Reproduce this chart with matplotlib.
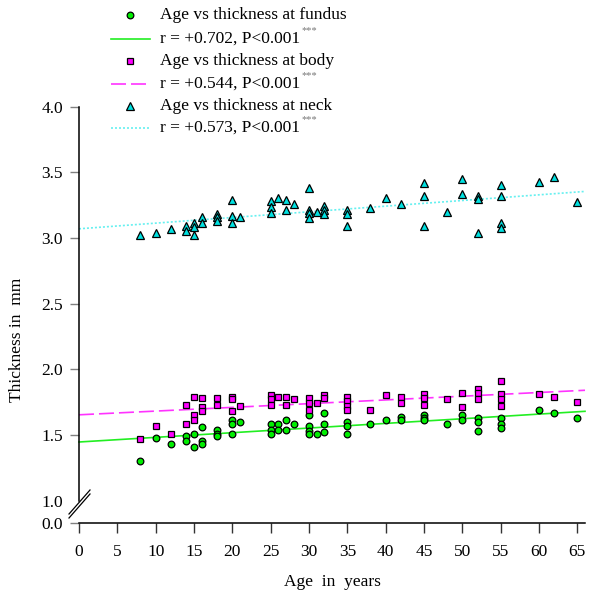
import matplotlib
matplotlib.use('Agg')
import matplotlib.pyplot as plt
from matplotlib.lines import Line2D
import numpy as np

plt.rcParams['font.family'] = ['Liberation Serif', 'DejaVu Serif']

# ---------------- data ----------------
fundus_age = [8, 10, 12, 14, 14, 15, 15, 16, 16, 16, 18, 18, 18, 20, 20, 20, 21,
              25, 25, 25, 26, 26, 27, 27, 28, 30, 30, 30, 30, 31, 32, 32, 32, 35, 35, 35,
              38, 40, 42, 42, 45, 45, 45, 48, 50, 50, 52, 52, 52, 55, 55, 55, 60, 62, 65]
fundus_thk = [1.30, 1.475, 1.43, 1.495, 1.45, 1.51, 1.41, 1.56, 1.45, 1.43, 1.535, 1.51, 1.49,
              1.61, 1.58, 1.51, 1.60,
              1.58, 1.54, 1.51, 1.58, 1.54, 1.61, 1.535, 1.58, 1.65, 1.565, 1.53, 1.505, 1.51,
              1.67, 1.58, 1.52, 1.60, 1.565, 1.51, 1.58, 1.61, 1.64, 1.61, 1.65, 1.63, 1.61,
              1.58, 1.65, 1.61, 1.63, 1.60, 1.53, 1.63, 1.58, 1.555, 1.69, 1.67, 1.63]

body_age = [8, 10, 12, 14, 14, 15, 15, 15, 16, 16, 16, 18, 18, 20, 20, 20, 21,
            25, 25, 25, 26, 27, 27, 28, 30, 30, 30, 31, 32, 32, 35, 35, 35, 35, 38, 40,
            42, 42, 45, 45, 45, 48, 50, 50, 52, 52, 52, 55, 55, 55, 55, 60, 62, 65]
body_thk = [1.47, 1.57, 1.51, 1.73, 1.58, 1.79, 1.65, 1.61, 1.78, 1.71, 1.685, 1.78, 1.73,
            1.79, 1.77, 1.685, 1.72,
            1.80, 1.77, 1.73, 1.79, 1.79, 1.73, 1.77, 1.78, 1.74, 1.69, 1.74, 1.80, 1.78,
            1.79, 1.755, 1.72, 1.69, 1.69, 1.80, 1.79, 1.74, 1.81, 1.78, 1.73, 1.77, 1.82,
            1.71, 1.85, 1.82, 1.775, 1.91, 1.81, 1.77, 1.72, 1.81, 1.79, 1.75]

neck_age = [8, 10, 12, 14, 14, 15, 15, 15, 16, 16, 18, 18, 18, 20, 20, 20, 21,
            25, 25, 25, 26, 27, 27, 28, 30, 30, 30, 30, 31, 32, 32, 32, 35, 35, 35, 38, 40,
            42, 45, 45, 45, 48, 50, 50, 52, 52, 52, 55, 55, 55, 55, 60, 62, 65]
neck_thk = [3.02, 3.035, 3.07, 3.09, 3.05, 3.11, 3.08, 3.02, 3.16, 3.11, 3.18, 3.16, 3.13,
            3.285, 3.165, 3.115, 3.16,
            3.28, 3.235, 3.19, 3.30, 3.285, 3.215, 3.255, 3.38, 3.215, 3.19, 3.15, 3.20,
            3.245, 3.215, 3.18, 3.21, 3.18, 3.09, 3.225, 3.30, 3.255, 3.42, 3.315, 3.09,
            3.20, 3.45, 3.335, 3.315, 3.295, 3.035, 3.405, 3.315, 3.115, 3.075, 3.425,
            3.465, 3.27]

fit_intercept = [1.446, 1.653, 3.069]
fit_slope = [0.00354, 0.00283, 0.00431]

series_labels = ['Age vs thickness at fundus', 'Age vs thickness at body', 'Age vs thickness at neck']
fit_labels = ['r = +0.702, P<0.001', 'r = +0.544, P<0.001', 'r = +0.573, P<0.001']
xticks = [0, 5, 10, 15, 20, 25, 30, 35, 40, 45, 50, 55, 60, 65]
yticks = [1.0, 1.5, 2.0, 2.5, 3.0, 3.5, 4.0]
ytick_labels = ['1.0', '1.5', '2.0', '2.5', '3.0', '3.5', '4.0']

# ---------------- figure ----------------
W, H = 596, 594
FS = 12.5
fig = plt.figure(figsize=(W / 100, H / 100), dpi=100)

def fx(px):
    return px / W

def fy(py):
    return 1 - py / H

ax = fig.add_axes([fx(79), fy(523), (585 - 79) / W, (523 - 106.5) / H])
ybot = 1.0 - (523 - 500.7) / 130.7
ax.set_xlim(0, 66)
ax.set_ylim(ybot, 4.0)

colors = ['#00ee00', '#ff00ff', '#00e0e0']
line_colors = ['#22ee22', '#ff33ff', '#66f0f0']
markers = ['o', 's', '^']
msizes = [4.8, 5.0, 5.4]
ages = [fundus_age, body_age, neck_age]
thks = [fundus_thk, body_thk, neck_thk]
styles = ['-', (0, (9, 3)), (0, (1.2, 1.2))]

xx = np.array([0, 66])
for i in range(3):
    ax.plot(xx, fit_intercept[i] + fit_slope[i] * xx, color=line_colors[i],
            linestyle=styles[i], lw=1.2, zorder=2, clip_on=False)
for i in range(3):
    ax.plot(ages[i], thks[i], linestyle='none', marker=markers[i], ms=msizes[i],
            mfc=colors[i], mec='black', mew=0.9, zorder=3)

for s in ['top', 'right']:
    ax.spines[s].set_visible(False)
ax.spines['left'].set_bounds(1.0, 4.0)
ax.spines['left'].set_linewidth(1.1)
ax.spines['bottom'].set_linewidth(1.1)

ax.set_xticks(xticks)
ax.set_xticklabels([str(v) for v in xticks])
ax.set_yticks([ybot] + yticks)
ax.set_yticklabels(['0.0'] + ytick_labels)
ax.tick_params(axis='y', direction='out', length=6.5, width=1.0, color='#808080',
               labelsize=FS, pad=5)
ax.tick_params(axis='x', direction='out', length=7, width=1.0, color='#333333',
               labelsize=FS, pad=8)
ax.yaxis.get_major_ticks()[1].tick1line.set_visible(False)

ax.set_xlabel('Age  in  years', fontsize=FS)
ax.set_ylabel('Thickness in  mm', fontsize=FS)
ax.xaxis.set_label_coords((332 - 79) / 506, -(586 - 523) / 416.5)
ax.yaxis.set_label_coords((25 - 79) / 506, (523 - 340) / 416.5)
ax.xaxis.label.set_va('baseline')

# axis break marks
for off in (0, 4):
    fig.add_artist(Line2D([fx(69), fx(90)], [fy(514 + off), fy(490 + off)],
                          color='black', lw=0.9))

# legend (manual)
rows = [15, 39, 61, 84, 106, 128]
renderer = fig.canvas.get_renderer()
for i in range(3):
    ym = rows[2 * i]
    yl = rows[2 * i + 1]
    fig.add_artist(Line2D([fx(130)], [fy(ym)], marker=markers[i], ms=msizes[i],
                          mfc=colors[i], mec='black', mew=0.9, linestyle='none'))
    fig.text(fx(160), fy(ym), series_labels[i], fontsize=FS, va='center', ha='left')
    fig.add_artist(Line2D([fx(111), fx(150)], [fy(yl), fy(yl)], color=line_colors[i],
                          linestyle=styles[i], lw=1.2))
    t = fig.text(fx(160), fy(yl), fit_labels[i], fontsize=FS, va='center', ha='left')
    bb = t.get_window_extent(renderer)
    fig.text(bb.x1 / W + 1.5 / W, fy(yl - 8), '***', fontsize=7.5, color='#777777',
             va='center', ha='left')

fig.savefig('out.png', dpi=100)
